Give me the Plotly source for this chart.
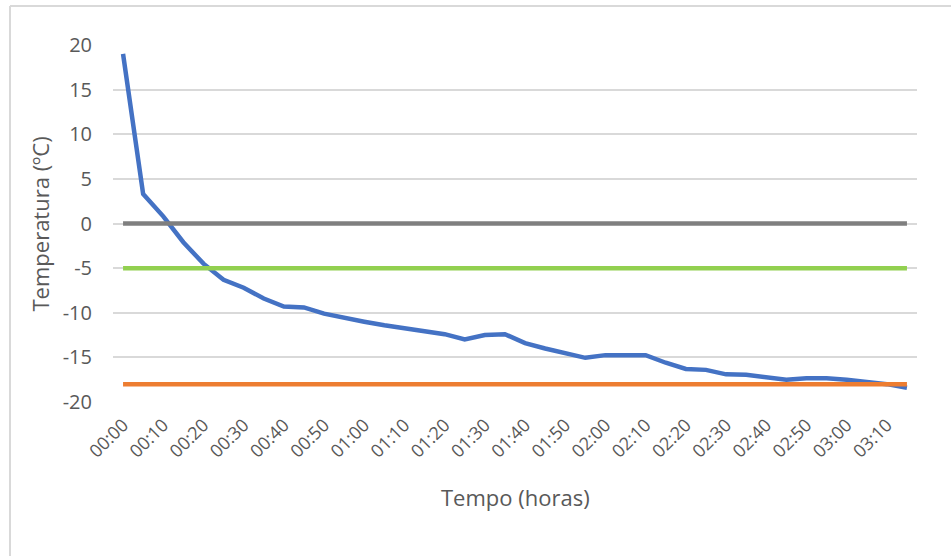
import plotly.graph_objects as go

times = ["00:00", "00:05", "00:10", "00:15", "00:20", "00:25", "00:30", "00:35",
         "00:40", "00:45", "00:50", "00:55", "01:00", "01:05", "01:10", "01:15",
         "01:20", "01:25", "01:30", "01:35", "01:40", "01:45", "01:50", "01:55",
         "02:00", "02:05", "02:10", "02:15", "02:20", "02:25", "02:30", "02:35",
         "02:40", "02:45", "02:50", "02:55", "03:00", "03:05", "03:10", "03:15"]

temperature = [19.0, 3.3, 0.8, -2.1, -4.5, -6.3, -7.2, -8.4,
               -9.3, -9.4, -10.1, -10.6, -11.0, -11.4, -11.75, -12.0,
               -12.4, -13.0, -12.5, -12.4, -13.4, -14.0, -14.5, -15.05,
               -14.75, -14.7, -14.75, -15.6, -16.3, -16.4, -16.9, -16.95,
               -17.2, -17.5, -17.35, -17.35, -17.5, -17.75, -18.0, -18.4]

x_tick_labels = times[::2]
y_tick_values = [20, 15, 10, 5, 0, -5, -10, -15, -20]
y_tick_labels = ["20", "15", "10", "5", "0", "-5", "-10", "-15", "-20"]

level_zero = 0
level_green = -5
level_orange = -18

text_color = "#595959"
font_family = "'Open Sans', 'Noto Sans', sans-serif"

fig = go.Figure()
fig.add_trace(go.Scatter(x=times, y=temperature, mode="lines",
                         line=dict(color="#4472C4", width=4.5), showlegend=False))
fig.add_trace(go.Scatter(x=times, y=[level_zero] * len(times), mode="lines",
                         line=dict(color="#7F7F7F", width=4.5), showlegend=False))
fig.add_trace(go.Scatter(x=times, y=[level_green] * len(times), mode="lines",
                         line=dict(color="#92D050", width=4.5), showlegend=False))
fig.add_trace(go.Scatter(x=times, y=[level_orange] * len(times), mode="lines",
                         line=dict(color="#ED7D31", width=4.5), showlegend=False))

fig.update_layout(
    width=951, height=556,
    margin=dict(l=113, r=34, t=45, b=154),
    paper_bgcolor="white", plot_bgcolor="white",
    font=dict(family=font_family, color=text_color, size=18),
    xaxis=dict(type="category", categoryorder="array", categoryarray=times,
               range=[-0.5, len(times) - 0.5],
               tickmode="array", tickvals=x_tick_labels, ticktext=x_tick_labels,
               tickangle=-45, showgrid=False, zeroline=False, showline=False,
               ticks="", ticklabelstandoff=8,
               tickfont=dict(size=18, color=text_color, family=font_family)),
    yaxis=dict(range=[-20, 20], tickmode="array", tickvals=y_tick_values,
               ticktext=y_tick_labels, showgrid=True,
               gridcolor="#D9D9D9", gridwidth=1.5, zeroline=False,
               showline=False, ticks="", ticklabelstandoff=20,
               tickfont=dict(size=20, color=text_color, family=font_family)),
    annotations=[
        dict(text="Tempo (horas)", xref="paper", yref="paper", x=0.5, y=-0.266,
             xanchor="center", yanchor="middle", showarrow=False,
             font=dict(size=22, color=text_color, family=font_family)),
        dict(text="Temperatura (ºC)", xref="paper", yref="paper", x=-0.0908, y=0.5,
             xanchor="center", yanchor="middle", showarrow=False, textangle=-90,
             font=dict(size=22, color=text_color, family=font_family)),
    ],
    shapes=[
        dict(type="line", xref="paper", yref="paper", x0=-0.1281, x1=1.2,
             y0=1.109, y1=1.109, line=dict(color="#D9D9D9", width=2)),
        dict(type="line", xref="paper", yref="paper", x0=-0.1281, x1=-0.1281,
             y0=-0.6, y1=1.109, line=dict(color="#D9D9D9", width=2)),
    ],
)

fig.write_html("out.html")
